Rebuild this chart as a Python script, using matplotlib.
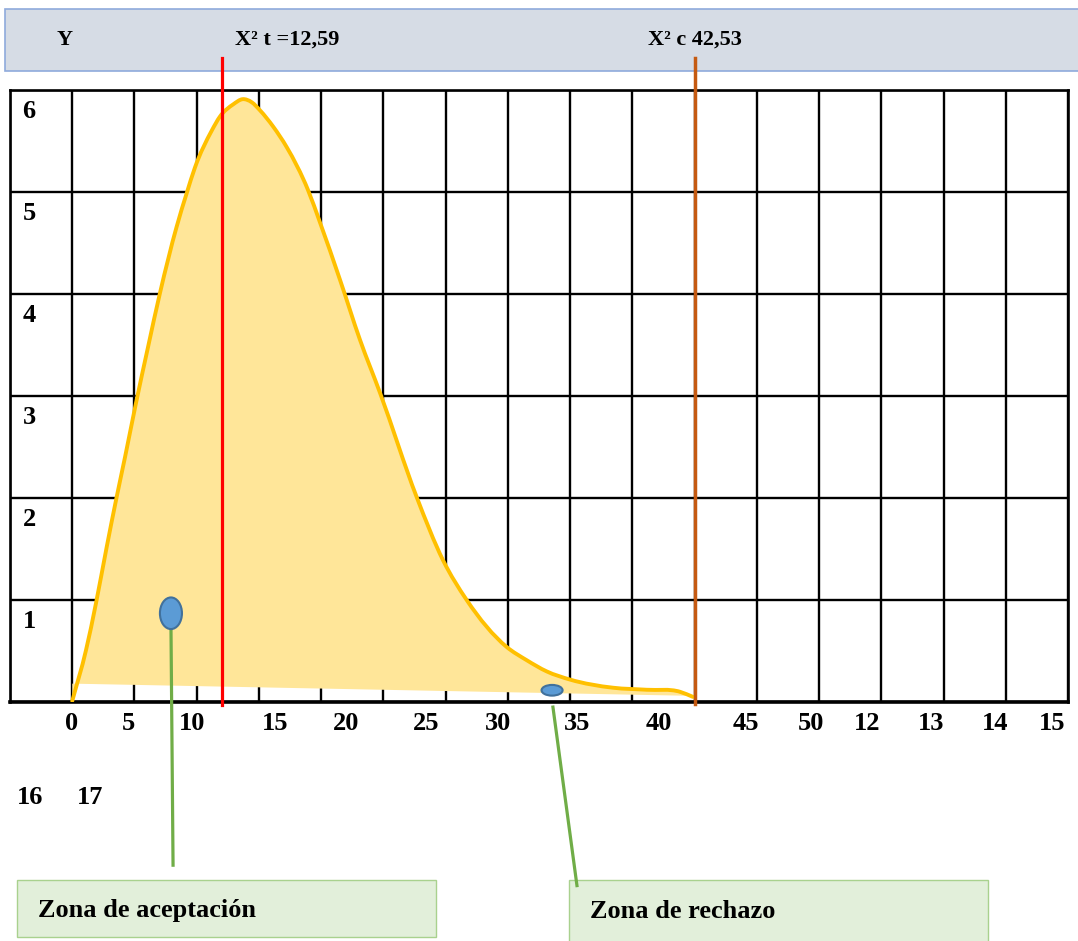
import numpy as np
import matplotlib
matplotlib.use("Agg")
import matplotlib.pyplot as plt
from matplotlib.patches import Rectangle, Ellipse, PathPatch
from matplotlib.path import Path

plt.rcParams['font.family'] = ['Liberation Serif', 'DejaVu Serif']
plt.rcParams['font.weight'] = 'bold'

# ---------------- data (grid units: 5 per column) ----------------
curve_x = [0.00, 1.11, 1.91, 2.77, 3.57, 4.24, 5.12, 6.09, 7.05, 8.39, 9.20, 9.86, 11.20,
           11.87, 12.94, 13.69, 14.42, 15.09, 16.15, 17.23, 18.94, 19.91, 21.51, 23.12,
           24.73, 27.67, 29.79, 31.69, 34.90, 36.51, 38.12, 39.99, 43.45, 46.15,
           48.83, 49.87]
curve_y = [0.01, 0.51, 0.97, 1.52, 2.01, 2.40, 2.93, 3.48, 4.01, 4.66, 4.99, 5.24, 5.60,
           5.74, 5.86, 5.91, 5.88, 5.80, 5.64, 5.44, 5.02, 4.70, 4.14, 3.55,
           3.03, 2.01, 1.39, 1.00, 0.54, 0.41, 0.30, 0.22, 0.14, 0.12,
           0.10, 0.05]
fill_base_x = [0.0, 49.87]
fill_base_y = [0.18, 0.06]

chi_t_pos = 12.0     # red line (X² t = 12,59)
chi_c_pos = 50.0     # orange line (X² c 42,53)

y_labels = ["1", "2", "3", "4", "5", "6"]
y_label_vals = [1, 2, 3, 4, 5, 6]
x_labels = ["0", "5", "10", "15", "20", "25", "30", "35", "40", "45", "50",
            "12", "13", "14", "15"]
x_labels_row2 = ["16", "17"]

header_texts = ["Y", "X\u00b2 t =12,59", "X\u00b2 c 42,53"]
zone_texts = ["Zona de aceptación", "Zona de rechazo"]

# annotation markers (grid units)
accept_marker = (7.93, 0.87)
reject_marker = (38.55, 0.115)

# ---------------- layout ----------------
W, H = 1078, 941
fig = plt.figure(figsize=(W / 100, H / 100), dpi=100)
fig.patch.set_facecolor("white")


def fx(px):
    return px / W


def fy(py):
    return 1 - py / H


def smooth_path(xs, ys):
    """Hermite curve through the points (tangents from neighbours), as Bezier path."""
    x = np.asarray(xs, float)
    y = np.asarray(ys, float)
    h = np.diff(x)
    d = np.diff(y) / h
    m = np.empty_like(y)
    m[0], m[-1] = d[0], d[-1]
    m[1:-1] = (h[:-1] * d[1:] + h[1:] * d[:-1]) / (h[:-1] + h[1:])
    verts = [(x[0], y[0])]
    codes = [Path.MOVETO]
    for i in range(len(x) - 1):
        hh = h[i] / 3.0
        verts += [(x[i] + hh, y[i] + m[i] * hh),
                  (x[i + 1] - hh, y[i + 1] - m[i + 1] * hh),
                  (x[i + 1], y[i + 1])]
        codes += [Path.CURVE4] * 3
    return verts, codes


ax_l, ax_r, ax_t, ax_b = 10, 1068, 90, 702
ax = fig.add_axes([fx(ax_l), fy(ax_b), (ax_r - ax_l) / W, (ax_b - ax_t) / H])
ax.set_zorder(2)
ax.set_xlim(-5, 80)
ax.set_ylim(0, 6)
ax.set_xticks(np.arange(-5, 81, 5))
ax.set_yticks(np.arange(0, 7, 1))
ax.tick_params(length=0, labelbottom=False, labelleft=False)
ax.set_axisbelow(True)
ax.grid(True, color="black", lw=1.7)
for s in ax.spines.values():
    s.set_color("black")
    s.set_linewidth(1.9)
ax.spines["bottom"].set_linewidth(2.6)

# header box
fig.patches.append(Rectangle((fx(5), fy(71)), fx(1090) - fx(5), fy(9) - fy(71),
                             transform=fig.transFigure, facecolor="#D6DCE5",
                             edgecolor="#8FAADC", lw=1.2, zorder=-1))
for txt, px in zip(header_texts, [57, 235, 648]):
    fig.text(fx(px), fy(40), txt, fontsize=16, fontweight="bold",
             ha="left", va="center", zorder=1)

# curve and fill
verts, codes = smooth_path(curve_x, curve_y)
fill_verts = list(verts) + [(fill_base_x[1], fill_base_y[1]),
                            (fill_base_x[0], fill_base_y[0]), verts[0]]
fill_codes = list(codes) + [Path.LINETO, Path.LINETO, Path.CLOSEPOLY]
ax.add_patch(PathPatch(Path(fill_verts, fill_codes), facecolor="#FFE699",
                       edgecolor="none", zorder=1))
ax.add_patch(PathPatch(Path(verts, codes), facecolor="none", edgecolor="#FFC000",
                       lw=2.8, zorder=3, capstyle="round", joinstyle="round"))

# critical lines
ax.plot([chi_t_pos, chi_t_pos], [-0.03, 6.31], color="#FF0000", lw=2.3,
        zorder=4, clip_on=False)
ax.plot([chi_c_pos, chi_c_pos], [-0.02, 6.31], color="#C55A11", lw=2.5,
        zorder=4, clip_on=False)

# y labels
for lab, v in zip(y_labels, y_label_vals):
    ax.text(-4.0, v - 0.21, lab, fontsize=19, fontweight="bold",
            ha="left", va="center", zorder=5)

# x labels (text box below axis)
x_label_px = [72, 128.6, 192.5, 275, 345.8, 426, 498, 577.5, 658.6, 746, 811,
              867.6, 931.5, 995.5, 1052]
for lab, px in zip(x_labels, x_label_px):
    fig.text(fx(px), fy(723), lab, fontsize=19, fontweight="bold",
             ha="center", va="center")
for lab, px in zip(x_labels_row2, [30, 90]):
    fig.text(fx(px), fy(798), lab, fontsize=19, fontweight="bold",
             ha="center", va="center")

# connectors
ax.plot([accept_marker[0], 8.10], [accept_marker[1] - 0.1, -1.60], color="#70AD47",
        lw=2.3, zorder=5, clip_on=False)
ax.plot([38.62, 40.55], [-0.05, -1.80], color="#70AD47", lw=2.3, zorder=5,
        clip_on=False)

# markers
ax.add_patch(Ellipse(accept_marker, 1.77, 0.31, facecolor="#5B9BD5",
                     edgecolor="#41719C", lw=1.5, zorder=6, clip_on=False))
ax.add_patch(Ellipse(reject_marker, 1.69, 0.105, facecolor="#5B9BD5",
                     edgecolor="#41719C", lw=1.5, zorder=6, clip_on=False))

# zone boxes
for (x0, x1, y0, y1), txt, tx in zip([(17, 436, 880, 937), (569, 988, 880, 950)],
                                     zone_texts, [38, 590]):
    fig.patches.append(Rectangle((fx(x0), fy(y1)), fx(x1) - fx(x0), fy(y0) - fy(y1),
                                 transform=fig.transFigure, facecolor="#E2EFDA",
                                 edgecolor="#A9D18E", lw=1.0, zorder=0))
    fig.text(fx(tx), fy(911), txt, fontsize=19, fontweight="bold",
             ha="left", va="center")

fig.savefig("out.png", dpi=100, facecolor="white")
